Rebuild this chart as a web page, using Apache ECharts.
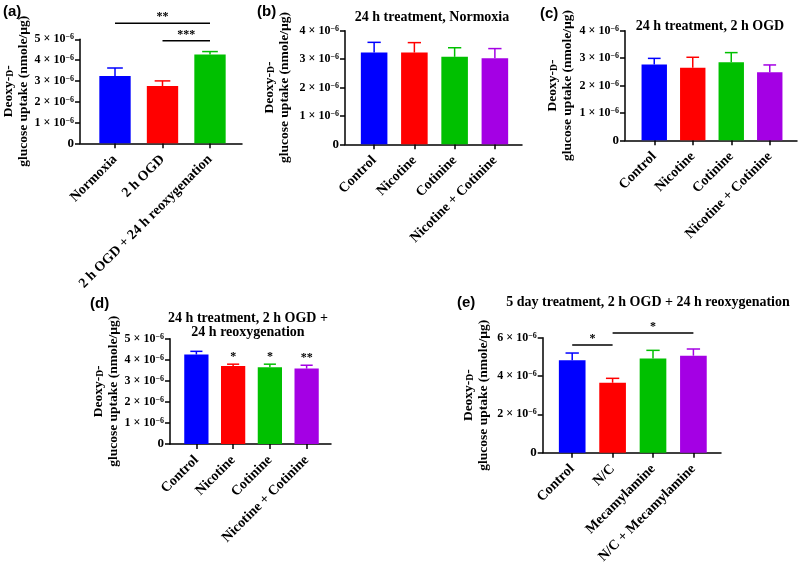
<!DOCTYPE html>
<html><head><meta charset="utf-8">
<script src="https://cdn.jsdelivr.net/npm/echarts@6/dist/echarts.min.js"></script>
<style>html,body{margin:0;padding:0;background:#fff}#c{width:800px;height:567px}</style>
</head><body><div id="c"></div>
<script>
// ---- data ----
const catsA = ['Normoxia', '2 h OGD', '2 h OGD + 24 h reoxygenation'];
const meanA = [3.24e-6, 2.75e-6, 4.27e-6];
const semA = [0.38e-6, 0.25e-6, 0.14e-6];
const sigA = [[0, 2, 5.77e-6], [1, 2, 4.93e-6]];
const sigTextA = ['**', '***'];

const catsBCD = ['Control', 'Nicotine', 'Cotinine', 'Nicotine + Cotinine'];
const meanB = [3.23e-6, 3.23e-6, 3.08e-6, 3.03e-6];
const semB = [0.36e-6, 0.35e-6, 0.32e-6, 0.34e-6];
const meanC = [2.77e-6, 2.65e-6, 2.85e-6, 2.48e-6];
const semC = [0.22e-6, 0.38e-6, 0.35e-6, 0.27e-6];
const meanD = [4.25e-6, 3.70e-6, 3.65e-6, 3.58e-6];
const semD = [0.15e-6, 0.09e-6, 0.14e-6, 0.16e-6];
const starsD = ['', '*', '*', '**'];

const catsE = ['Control', 'N/C', 'Mecamylamine', 'N/C + Mecamylamine'];
const meanE = [4.82e-6, 3.65e-6, 4.92e-6, 5.06e-6];
const semE = [0.38e-6, 0.23e-6, 0.42e-6, 0.35e-6];
const sigE = [[0, 1, 5.62e-6], [1, 3, 6.24e-6]];
const sigTextE = ['*', '*'];

const titleB = '24 h treatment, Normoxia';
const titleC = '24 h treatment, 2 h OGD';
const titleD = '24 h treatment, 2 h OGD +\n24 h reoxygenation';
const titleE = '5 day treatment, 2 h OGD + 24 h reoxygenation';
const yName = 'Deoxy-{sc|D}-\nglucose uptake (nmole/µg)';

// ---- style ----
const colors = ['#0000FF', '#FF0000', '#00C000', '#A400E4'];
const SERIF = '"Liberation Serif", "Times New Roman", serif';
const SANS = '"Liberation Sans", Arial, sans-serif';

const panels = [
  {cats: catsA, mean: meanA, sem: semA, sig: sigA, sigText: sigTextA,
   axL: 80, axR: 242, top: 39.3, bot: 143.3, bandL: 91.25, bandW: 142.5, yMax: 5e-6, yInt: 1e-6, nameGap: 42},
  {cats: catsBCD, mean: meanB, sem: semB,
   axL: 345, axR: 522, top: 30.7, bot: 144.3, bandL: 354, bandW: 161, yMax: 4e-6, yInt: 1e-6, nameGap: 53},
  {cats: catsBCD, mean: meanC, sem: semC,
   axL: 625, axR: 797, top: 30.7, bot: 140.3, bandL: 635, bandW: 154, yMax: 4e-6, yInt: 1e-6, nameGap: 50},
  {cats: catsBCD, mean: meanD, sem: semD, stars: starsD,
   axL: 170, axR: 331, top: 338.7, bot: 444, bandL: 178, bandW: 147, yMax: 5e-6, yInt: 1e-6, nameGap: 49},
  {cats: catsE, mean: meanE, sem: semE, sig: sigE, sigText: sigTextE,
   axL: 542.7, axR: 721, top: 337.7, bot: 452.7, bandL: 552, bandW: 161.6, yMax: 6e-6, yInt: 2e-6, nameGap: 52}
];

const grid = [], xAxis = [], yAxis = [], series = [];
const axisLineStyle = {color: '#000', width: 1.5};

function errRender(stars) {
  return function (params, api) {
    const i = api.value(0), m = api.value(1), s = api.value(2);
    const p0 = api.coord([i, m]), p1 = api.coord([i, m + s]);
    const half = api.size([1, 0])[0] * 0.165;
    const c = colors[i];
    const children = [
      {type: 'line', shape: {x1: p0[0], y1: p0[1], x2: p1[0], y2: p1[1]}, style: {stroke: c, lineWidth: 1.5}},
      {type: 'line', shape: {x1: p1[0] - half, y1: p1[1], x2: p1[0] + half, y2: p1[1]}, style: {stroke: c, lineWidth: 1.5}}
    ];
    if (stars && stars[params.dataIndex]) {
      children.push({type: 'text', x: p1[0], y: p1[1] - 1,
        style: {text: stars[params.dataIndex], fill: '#000', font: 'bold 12px ' + SERIF, align: 'center', verticalAlign: 'bottom'}});
    }
    return {type: 'group', children};
  };
}
function sigRender(texts) {
  return function (params, api) {
    const y = api.value(2);
    const a = api.coord([api.value(0), y]), b = api.coord([api.value(1), y]);
    return {type: 'group', children: [
      {type: 'line', shape: {x1: a[0], y1: a[1], x2: b[0], y2: b[1]}, style: {stroke: '#000', lineWidth: 1.5}},
      {type: 'text', x: (a[0] + b[0]) / 2, y: a[1],
       style: {text: texts[params.dataIndex], fill: '#000', font: 'bold 12px ' + SERIF, align: 'center', verticalAlign: 'bottom'}}
    ]};
  };
}

panels.forEach((p, k) => {
  const gW = 2 * k, gB = 2 * k + 1;
  grid.push({left: p.axL, top: p.top, width: p.axR - p.axL, height: p.bot - p.top, outerBoundsMode: 'none', containLabel: false});
  grid.push({left: p.bandL, top: p.top, width: p.bandW, height: p.bot - p.top, outerBoundsMode: 'none', containLabel: false});
  // wide grid: visible y axis and x axis line
  xAxis.push({type: 'value', gridIndex: gW, min: 0, max: 1, axisLine: {show: true, onZero: false, lineStyle: axisLineStyle},
    axisTick: {show: false}, axisLabel: {show: false}, splitLine: {show: false}});
  yAxis.push({type: 'value', gridIndex: gW, min: 0, max: p.yMax, interval: p.yInt,
    axisLine: {show: true, lineStyle: axisLineStyle},
    axisTick: {show: true, length: 5, lineStyle: axisLineStyle},
    splitLine: {show: false},
    axisLabel: {margin: 6, color: '#000', fontFamily: SERIF, fontWeight: 'bold', fontSize: 13,
      formatter: v => v === 0 ? '0' : '{b|' + Math.round(v * 1e6) + ' × 10}{s|−6}',
      rich: {b: {fontFamily: SERIF, fontWeight: 'bold', fontSize: 12, lineHeight: 12, color: '#000'},
             s: {fontFamily: SERIF, fontWeight: 'bold', fontSize: 8, lineHeight: 8, verticalAlign: 'top', color: '#000'}}},
    name: yName, nameLocation: 'middle', nameRotate: 90, nameGap: p.nameGap,
    nameTextStyle: {color: '#000', fontFamily: SERIF, fontWeight: 'bold', fontSize: 13.5, lineHeight: 15,
      rich: {sc: {fontFamily: SERIF, fontWeight: 'bold', fontSize: 9.5, color: '#000', verticalAlign: 'bottom', lineHeight: 12}}}
  });
  // band grid: categories, bars
  xAxis.push({type: 'category', gridIndex: gB, data: p.cats, boundaryGap: true,
    axisLine: {show: false}, axisTick: {show: true, alignWithLabel: true, length: 5, lineStyle: axisLineStyle},
    axisLabel: {interval: 0, rotate: 45, margin: 14, color: '#000', fontFamily: SERIF, fontWeight: 'bold', fontSize: 14},
    splitLine: {show: false}});
  yAxis.push({type: 'value', gridIndex: gB, min: 0, max: p.yMax, show: false, splitLine: {show: false}});

  series.push({type: 'bar', xAxisIndex: gB, yAxisIndex: gB, barWidth: '66%', silent: true,
    data: p.mean.map((v, i) => ({value: v, itemStyle: {color: colors[i]}}))});
  series.push({type: 'custom', xAxisIndex: gB, yAxisIndex: gB, silent: true, clip: false,
    encode: {x: 0, y: 1}, renderItem: errRender(p.stars),
    data: p.mean.map((v, i) => [i, v, p.sem[i]])});
  if (p.sig) {
    series.push({type: 'custom', xAxisIndex: gB, yAxisIndex: gB, silent: true, clip: false,
      encode: {x: [0, 1], y: 2}, renderItem: sigRender(p.sigText), data: p.sig});
  }
});

const tStyle = {color: '#000', fontFamily: SERIF, fontWeight: 'bold', fontSize: 14, lineHeight: 14};
const lStyle = {color: '#000', fontFamily: SANS, fontWeight: 'bold', fontSize: 15};
const title = [
  {text: '(a)', left: 3, top: 4, padding: 0, textStyle: lStyle},
  {text: '(b)', left: 257, top: 4, padding: 0, textStyle: lStyle},
  {text: '(c)', left: 540, top: 6, padding: 0, textStyle: lStyle},
  {text: '(d)', left: 90, top: 296, padding: 0, textStyle: lStyle},
  {text: '(e)', left: 457, top: 295, padding: 0, textStyle: lStyle},
  {text: titleB, left: 432, top: 10, padding: 0, textAlign: 'center', textStyle: tStyle},
  {text: titleC, left: 710, top: 19.5, padding: 0, textAlign: 'center', textStyle: tStyle},
  {text: titleD, left: 248, top: 311.5, padding: 0, textAlign: 'center', textStyle: Object.assign({}, tStyle, {align: 'center'})},
  {text: titleE, left: 648, top: 295.5, padding: 0, textAlign: 'center', textStyle: tStyle}
];

const chart = echarts.init(document.getElementById('c'), null, {renderer: 'canvas'});
chart.setOption({backgroundColor: '#fff', animation: false, title, grid, xAxis, yAxis, series});
</script></body></html>
